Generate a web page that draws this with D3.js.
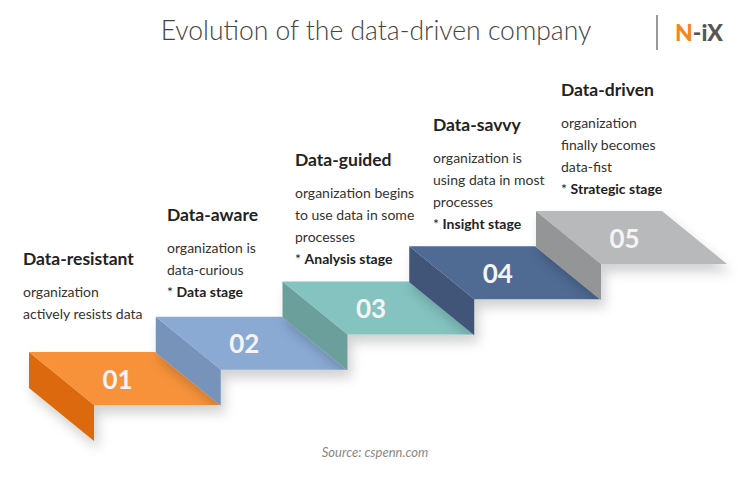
<!DOCTYPE html>
<html><head><meta charset="utf-8">
<script src="https://cdn.jsdelivr.net/npm/d3@7"></script>
<style>body{margin:0;background:#fff}</style>
</head><body>
<svg id="chart" width="750" height="478"></svg>
<script>
// stages of the data-driven company
var stages = ["01", "02", "03", "04", "05"];
var titles = ["Data-resistant", "Data-aware", "Data-guided", "Data-savvy", "Data-driven"];
var descs = [
  ["organization", "actively resists data"],
  ["organization is", "data-curious"],
  ["organization begins", "to use data in some", "processes"],
  ["organization is", "using data in most", "processes"],
  ["organization", "finally becomes", "data-fist"]
];
var notes = ["", "Data stage", "Analysis stage", "Insight stage", "Strategic stage"];
var topColors = ["#f7923a", "#8aaad4", "#84c3c0", "#506b93", "#b8b9ba"];
var sideColors = ["#dc6908", "#7893b9", "#6b9f9c", "#3f5478", "#949596"];

var svg = d3.select("#chart");
var font = "Lato, 'Open Sans', sans-serif";

var defs = svg.append("defs");
var f = defs.append("filter").attr("id", "sh").attr("x", "-20%").attr("y", "-20%").attr("width", "150%").attr("height", "160%");
f.append("feDropShadow").attr("dx", 4).attr("dy", 8).attr("stdDeviation", 6).attr("flood-color", "#000").attr("flood-opacity", 0.18);

// step position scales
var x = d3.scaleLinear().domain([0, 4]).range([29, 536]);
var y = d3.scaleLinear().domain([0, 4]).range([352, 211]);
var W = 126, DX = 65, DY = 53, H = 36;

var g = svg.append("g");
stages.forEach(function(s, i) {
  var bx = x(i), by = y(i);
  var sg = g.append("g").attr("filter", "url(#sh)");
  sg.append("path")
    .attr("d", d3.line()([[bx, by], [bx, by + H], [bx + DX, by + DY + H], [bx + DX, by + DY]]) + "Z")
    .attr("fill", sideColors[i]);
  sg.append("path")
    .attr("d", d3.line()([[bx, by], [bx + W, by], [bx + W + DX, by + DY], [bx + DX, by + DY]]) + "Z")
    .attr("fill", topColors[i]);
  g.append("text")
    .attr("x", bx + W / 2 + DX / 2 - 7).attr("y", by + DY / 2 + 10)
    .attr("text-anchor", "middle").attr("font-family", font).attr("font-weight", 700)
    .attr("font-size", 26).attr("fill", "#f4f4f4").text(s);
});

// text blocks
var tx = [23, 167, 295, 433, 561];
var ty = [265, 221, 166, 131, 96];
titles.forEach(function(t, i) {
  var tg = svg.append("g");
  tg.append("text").attr("x", tx[i]).attr("y", ty[i])
    .attr("font-family", font).attr("font-weight", 700).attr("font-size", 17.5)
    .attr("fill", "#222").text(t);
  var lines = descs[i];
  lines.forEach(function(l, j) {
    tg.append("text").attr("x", tx[i]).attr("y", ty[i] + 32 + j * 22)
      .attr("font-family", font).attr("font-size", 14).attr("fill", "#333").text(l);
  });
  if (notes[i]) {
    var nt = tg.append("text").attr("x", tx[i]).attr("y", ty[i] + 32 + lines.length * 22)
      .attr("font-family", font).attr("font-size", 14).attr("fill", "#222");
    nt.append("tspan").text("* ");
    nt.append("tspan").attr("font-weight", 700).text(notes[i]);
  }
});

// title and logo
svg.append("text").attr("x", 376).attr("y", 40).attr("text-anchor", "middle")
  .attr("font-family", font).attr("font-weight", 300).attr("font-size", 26.5).attr("fill", "#444")
  .text("Evolution of the data-driven company");
svg.append("line").attr("x1", 657).attr("x2", 657).attr("y1", 15).attr("y2", 50)
  .attr("stroke", "#555").attr("stroke-width", 1.2);
var logo = svg.append("text").attr("x", 675).attr("y", 41)
  .attr("font-family", font).attr("font-weight", 900).attr("font-size", 23);
logo.append("tspan").attr("fill", "#f7841f").text("N");
logo.append("tspan").attr("fill", "#555").text("-iX");

svg.append("text").attr("x", 375).attr("y", 457).attr("text-anchor", "middle")
  .attr("font-family", font).attr("font-style", "italic").attr("font-size", 13).attr("fill", "#888")
  .text("Source: cspenn.com");
</script>
</body></html>
